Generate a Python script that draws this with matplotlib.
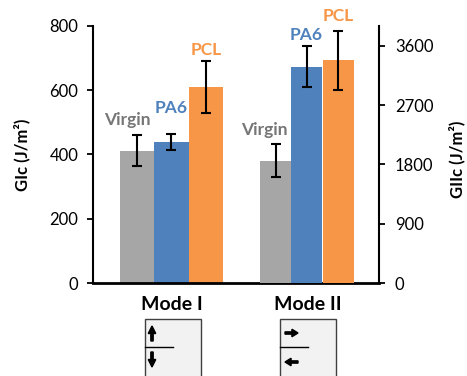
import matplotlib
matplotlib.use("Agg")
import matplotlib.pyplot as plt
from matplotlib.patches import Rectangle, FancyArrow
from matplotlib.lines import Line2D

plt.rcParams["font.family"] = ["Lato", "DejaVu Sans"]

materials = ["Virgin", "PA6", "PCL"]
modes = ["Mode I", "Mode II"]
gic_values = [412, 438, 610]          # J/m^2, left axis
gic_errors = [48, 25, 80]
giic_values = [1858, 3281, 3377]      # J/m^2, right axis
giic_errors = [253, 310, 450]

bar_colors = ["#a6a6a6", "#4f81bd", "#f79646"]
label_colors = ["#767676", "#4f81bd", "#f79646"]
# label offsets (points) relative to bar centre / error bar top
label_dx_1 = [-7, 0, 0]
label_dy_1 = [11, 19, 8]
label_dx_2 = [-8, 0, 0]
label_dy_2 = [10, 8, 11]

fig = plt.figure(figsize=(4.67, 3.76), dpi=100)
ax = fig.add_axes([0.199, 0.2473, 0.6126, 0.6836])
ax2 = ax.twinx()

offsets_1 = [-0.254, 0.0, 0.252]
offsets_2 = [-0.235, -0.007, 0.227]
err_kw = dict(ecolor="black", elinewidth=1.5, capsize=3.5, capthick=1.5)

for i, m in enumerate(materials):
    x1 = 0 + offsets_1[i]
    ax.bar(x1, gic_values[i], width=0.253, color=bar_colors[i], yerr=gic_errors[i], error_kw=err_kw)
    ax.annotate(m, (x1, gic_values[i] + gic_errors[i]), xytext=(label_dx_1[i], label_dy_1[i]),
                textcoords="offset points", ha="center", va="center", fontsize=12.5,
                fontweight="bold", color=label_colors[i])
    x2 = 1 + offsets_2[i]
    ax2.bar(x2, giic_values[i], width=0.232, color=bar_colors[i], yerr=giic_errors[i], error_kw=err_kw)
    ax2.annotate(m, (x2, giic_values[i] + giic_errors[i]), xytext=(label_dx_2[i], label_dy_2[i]),
                 textcoords="offset points", ha="center", va="center", fontsize=12.5,
                 fontweight="bold", color=label_colors[i])

ax.set_xlim(-0.577, 1.525)
ax.set_ylim(0, 800)
ax2.set_ylim(0, 3900)
ax.set_yticks([0, 200, 400, 600, 800])
ax2.set_yticks([0, 900, 1800, 2700, 3600])
ax.set_xticks([0, 1])
ax.set_xticklabels(modes, fontsize=14, fontweight="bold")

for a in (ax, ax2):
    a.spines["top"].set_visible(False)
    a.spines["left"].set_linewidth(1.5)
    a.spines["right"].set_linewidth(1.5)
    a.spines["bottom"].set_linewidth(2.0)
ax.spines["right"].set_visible(False)
ax2.spines["left"].set_visible(False)
ax2.spines["bottom"].set_visible(False)

ax.tick_params(axis="y", labelsize=12, length=4.5, width=1.3, pad=6, colors="black")
ax2.tick_params(axis="y", labelsize=12, length=4.5, width=1.3, pad=7)
ax.tick_params(axis="x", length=0, pad=9)

fig.text(0.047, 0.588, "GIc (J/m²)", rotation=90, ha="center", va="center",
         fontsize=12, fontweight="bold")
fig.text(0.978, 0.575, "GIIc (J/m²)", rotation=90, ha="center", va="center",
         fontsize=12, fontweight="bold")

# loading mode sketches below the category labels
W, H = 467.0, 376.0


def px(x, y):
    return x / W, 1 - y / H


for left, vertical in ((145, True), (280, False)):
    x0, y0 = px(left, 380)
    fig.patches.append(Rectangle((x0, y0), 56 / W, 61 / H, transform=fig.transFigure,
                                 facecolor="#f2f2f2", edgecolor="#404040", linewidth=1.0))
    lx0, ly = px(left, 347)
    lx1, _ = px(left + 28, 347)
    fig.lines.append(Line2D([lx0, lx1], [ly, ly], transform=fig.transFigure, color="black", lw=1.0))
    if vertical:
        for ys, dy in ((341, -15), (352, 15)):
            xs, yf = px(left + 7, ys)
            fig.patches.append(FancyArrow(xs, yf, 0, -dy / H, width=0.005, head_width=0.016,
                                          head_length=0.02, length_includes_head=True,
                                          transform=fig.transFigure, color="black"))
    else:
        for ys, xs_px, dx in ((333, left + 5, 13), (362, left + 18, -13)):
            xs, yf = px(xs_px, ys)
            fig.patches.append(FancyArrow(xs, yf, dx / W, 0, width=0.006, head_width=0.02,
                                          head_length=0.013, length_includes_head=True,
                                          transform=fig.transFigure, color="black"))

fig.savefig("out.png", dpi=100)
